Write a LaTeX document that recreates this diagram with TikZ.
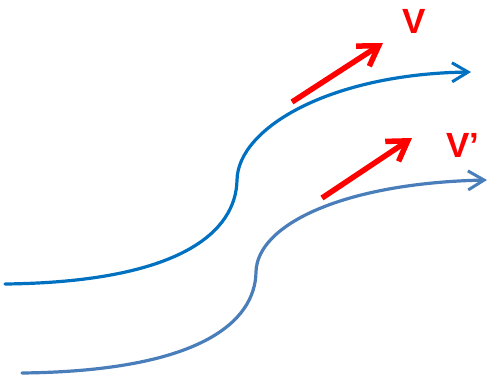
\documentclass[tikz,border=0pt]{standalone}
\usepackage{fontspec}
\setmainfont{Liberation Sans}
\usetikzlibrary{arrows.meta}
\definecolor{blueA}{HTML}{0070C0}
\definecolor{blueB}{HTML}{4A7EBB}
\begin{document}
\begin{tikzpicture}[x=1pt,y=-1pt,
  flow/.style={line width=3.2pt, line cap=round, -{Straight Barb[length=16pt,width=19pt,line width=3pt]}},
  vel/.style={red, line width=5.5pt, -{Straight Barb[length=19pt,width=24pt,line width=5.5pt]}},
  lbl/.style={red, font=\fontsize{35}{35}\selectfont\bfseries, inner sep=0pt}]
\useasboundingbox (0,0) rectangle (488,378);
\coordinate (a0) at (5,284);
\coordinate (a1) at (237,180);
\coordinate (a2) at (471,72);
\coordinate (b0) at (22,373);
\coordinate (b1) at (256,272);
\coordinate (b2) at (487,180);
\draw[flow, blueA] (a0) .. controls (180,282) and (236,232) .. (a1)
  .. controls (238,128) and (330,74) .. (a2);
\draw[flow, blueB] (b0) .. controls (200,371) and (255,322) .. (b1)
  .. controls (257,224) and (345,183) .. (b2);
\coordinate (r1s) at (292,102);
\coordinate (r1e) at (383,43);
\coordinate (r2s) at (322,198);
\coordinate (r2e) at (412,138);
\draw[vel] (r1s) -- (r1e);
\draw[vel] (r2s) -- (r2e);
\node[lbl, anchor=base west] (v1) at (402,33) {V};
\node[lbl, anchor=base west] (v2) at (446,157) {V’};
\end{tikzpicture}
\end{document}
